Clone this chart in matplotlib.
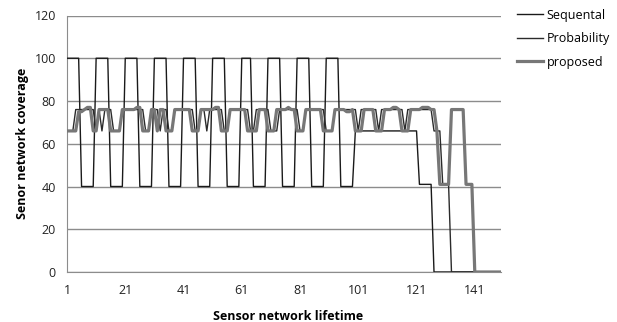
import matplotlib
matplotlib.use("Agg")
import matplotlib.pyplot as plt

plt.rcParams['font.family'] = ['Open Sans', 'DejaVu Sans']

x_ticks = [1, 21, 41, 61, 81, 101, 121, 141]
y_ticks = [0, 20, 40, 60, 80, 100, 120]

sequential = [
    100, 100, 100, 100, 100, 40, 40, 40, 40, 40,
    100, 100, 100, 100, 100, 40, 40, 40, 40, 40,
    100, 100, 100, 100, 100, 40, 40, 40, 40, 40,
    100, 100, 100, 100, 100, 40, 40, 40, 40, 40,
    100, 100, 100, 100, 100, 40, 40, 40, 40, 40,
    100, 100, 100, 100, 100, 40, 40, 40, 40, 40,
    100, 100, 100, 100, 40, 40, 40, 40, 40, 100,
    100, 100, 100, 100, 40, 40, 40, 40, 40, 100,
    100, 100, 100, 100, 40, 40, 40, 40, 40, 100,
    100, 100, 100, 100, 40, 40, 40, 40, 40, 66,
    66, 66, 66, 66, 66, 66, 66, 66, 66, 66,
    66, 66, 66, 66, 66, 66, 66, 66, 66, 66,
    66, 41, 41, 41, 41, 41, 0, 0, 0, 0,
    0, 0, 0, 0, 0, 0, 0, 0, 0, 0,
    0, 0, 0, 0, 0, 0, 0, 0, 0, 0,
]

probability = [
    66, 66, 66, 76, 76, 76, 76, 76, 76, 76,
    66, 76, 66, 76, 76, 76, 66, 66, 66, 76,
    76, 76, 76, 76, 76, 76, 76, 66, 66, 76,
    76, 76, 66, 76, 76, 66, 66, 76, 76, 76,
    76, 76, 76, 76, 66, 66, 76, 76, 66, 76,
    76, 76, 76, 76, 66, 66, 76, 76, 76, 76,
    76, 76, 76, 66, 66, 76, 76, 76, 76, 76,
    66, 66, 66, 76, 76, 76, 76, 76, 76, 76,
    66, 66, 76, 76, 76, 76, 76, 76, 76, 66,
    66, 66, 76, 76, 76, 76, 76, 76, 76, 76,
    66, 76, 76, 76, 76, 76, 76, 66, 76, 76,
    76, 76, 76, 76, 76, 76, 66, 76, 76, 76,
    76, 76, 76, 76, 76, 76, 66, 66, 66, 41,
    41, 41, 0, 0, 0, 0, 0, 0, 0, 0,
    0, 0, 0, 0, 0, 0, 0, 0, 0, 0,
]

proposed = [
    66, 66, 66, 66, 75, 75, 76, 77, 77, 66,
    66, 76, 76, 76, 76, 66, 66, 66, 66, 76,
    76, 76, 76, 76, 77, 77, 66, 66, 66, 76,
    76, 66, 76, 76, 66, 66, 66, 76, 76, 76,
    76, 76, 76, 66, 66, 66, 76, 76, 76, 76,
    76, 77, 77, 66, 66, 66, 76, 76, 76, 76,
    76, 76, 66, 66, 66, 66, 76, 76, 76, 66,
    66, 66, 76, 76, 76, 76, 77, 76, 76, 66,
    66, 66, 76, 76, 76, 76, 76, 76, 66, 66,
    66, 66, 76, 76, 76, 76, 75, 75, 76, 66,
    66, 66, 76, 76, 76, 76, 66, 66, 66, 76,
    76, 76, 77, 77, 76, 66, 66, 66, 76, 76,
    76, 76, 77, 77, 77, 76, 76, 66, 41, 41,
    41, 41, 76, 76, 76, 76, 76, 41, 41, 41,
    0, 0, 0, 0, 0, 0, 0, 0, 0, 0,
]

n = len(sequential)
xs = list(range(1, n + 1))

fig = plt.figure(figsize=(6.17, 3.22), dpi=100)
ax = fig.add_axes([67 / 617, 1 - 272 / 322, (501 - 67) / 617, (272 - 15.5) / 322])

ax.plot(xs, sequential, color='#1a1a1a', lw=1.0, label='Sequental', zorder=3)
ax.plot(xs, probability, color='#2b2b2b', lw=1.0, label='Probability', zorder=4)
ax.plot(xs, proposed, color='#777777', lw=2.3, label='proposed', zorder=5)

ax.set_xlim(1, n)
ax.set_ylim(0, 120)
ax.set_yticks(y_ticks)
ax.set_xticks(x_ticks)
ax.set_xticklabels([str(t) for t in x_ticks])
ax.tick_params(axis='both', length=0, labelsize=9, colors='#222222', pad=8)
ax.tick_params(axis='x', pad=9)
ax.grid(axis='y', color='#8c8c8c', lw=1.0)
ax.set_axisbelow(True)
for s in ['top', 'right']:
    ax.spines[s].set_visible(False)
ax.spines['left'].set_color('#8c8c8c')
ax.spines['bottom'].set_color('#8c8c8c')

ax.set_ylabel('Senor network coverage', fontsize=9, fontweight='bold', labelpad=4)
fig.text(288 / 617, 1 - 317 / 322, 'Sensor network lifetime', fontsize=9,
         fontweight='bold', ha='center', va='center')

leg = ax.legend(loc='upper left', bbox_to_anchor=(1.037, 1.027), frameon=False,
                fontsize=9, handlelength=2.1, handletextpad=0.25,
                labelspacing=0.85, borderpad=0, borderaxespad=0)

fig.savefig('out.png', dpi=100, facecolor='white')
